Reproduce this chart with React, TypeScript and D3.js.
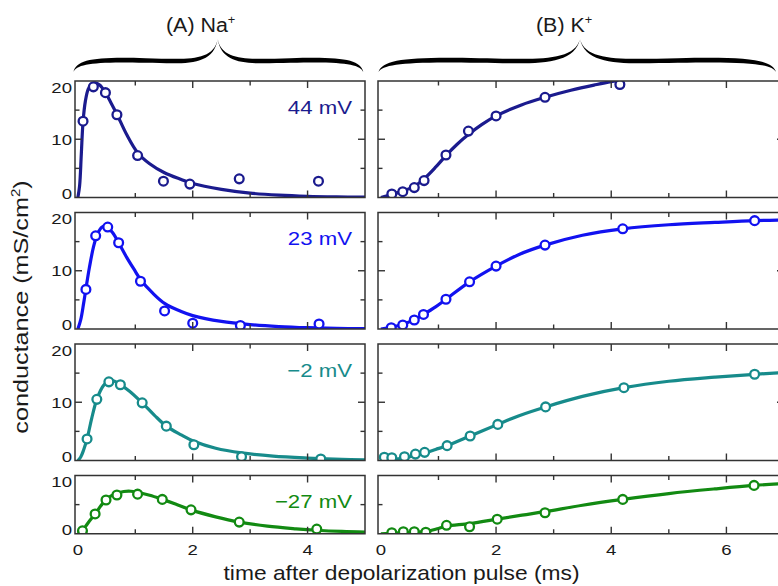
import React from 'react';
import * as d3 from 'd3';

// ---------- data ----------
const rowLabels = ['44 mV', '23 mV', '\u22122 mV', '\u221227 mV'];
const rowColors = ['#1b1b8e', '#1212f0', '#178b8b', '#128a12'];
const rowMax = [20, 20, 20, 10];
const columnTitles = ['(A) Na', '(B) K'];
const yAxisTitle = 'conductance (mS/cm';
const xAxisTitle = 'time after depolarization pulse (ms)';
const naXLabels = [0, 2, 4];
const kXLabels = [0, 2, 4, 6];

// Na+ measured points
const naT44 = [0.09, 0.27, 0.48, 0.68, 1.04, 1.49, 1.95, 2.81, 4.19];
const naG44 = [13.1, 19.0, 18.0, 14.2, 7.2, 2.8, 2.3, 3.2, 2.8];
const naT23 = [0.14, 0.31, 0.52, 0.71, 1.09, 1.51, 2.0, 2.83, 4.2];
const naG23 = [6.8, 16.0, 17.5, 14.8, 8.2, 3.1, 1.0, 0.6, 0.85];
const naTm2 = [0.16, 0.33, 0.54, 0.74, 1.12, 1.54, 2.02, 2.85, 4.23];
const naGm2 = [3.7, 10.5, 13.5, 13.0, 9.9, 5.9, 2.7, 0.65, 0.26];
const naTm27 = [0.08, 0.3, 0.49, 0.68, 1.04, 1.47, 1.97, 2.81, 4.16];
const naGm27 = [0.5, 3.4, 5.8, 6.65, 6.8, 5.9, 4.1, 2.0, 0.8];

// Na+ fitted curves
const naFitT44 = [0, 0.03, 0.06, 0.09, 0.13, 0.18, 0.24, 0.3, 0.38, 0.48, 0.58, 0.68, 0.85, 1.04, 1.25, 1.5, 1.8, 2.0, 2.5, 3.0, 3.5, 4.0, 4.5, 5.0];
const naFitG44 = [0, 2, 7.5, 13, 16.5, 18.6, 19.5, 19.7, 19.3, 18.0, 16.2, 14.3, 10.8, 7.7, 5.8, 4.3, 3.1, 2.4, 1.4, 0.75, 0.4, 0.2, 0.1, 0.05];
const naFitT23 = [0, 0.05, 0.1, 0.14, 0.2, 0.27, 0.34, 0.42, 0.5, 0.6, 0.71, 0.85, 1.0, 1.09, 1.3, 1.51, 1.8, 2.0, 2.5, 3.0, 3.5, 4.0, 4.5, 5.0];
const naFitG23 = [0, 1.6, 4.4, 6.9, 10.5, 14.0, 16.3, 17.5, 17.6, 16.6, 14.8, 12.3, 9.9, 8.5, 6.2, 4.4, 3.0, 2.3, 1.3, 0.75, 0.42, 0.22, 0.1, 0.05];
const naFitTm2 = [0, 0.05, 0.1, 0.16, 0.24, 0.33, 0.44, 0.54, 0.64, 0.74, 0.9, 1.12, 1.33, 1.54, 1.8, 2.02, 2.4, 2.85, 3.4, 4.0, 4.6, 5.0];
const naFitGm2 = [0, 0.6, 1.8, 3.7, 7.2, 10.5, 12.8, 13.7, 13.6, 13.0, 11.9, 9.9, 7.8, 5.9, 4.4, 3.3, 2.1, 1.3, 0.75, 0.42, 0.2, 0.12];
const naFitTm27 = [0, 0.04, 0.08, 0.18, 0.3, 0.4, 0.49, 0.58, 0.68, 0.8, 0.92, 1.04, 1.25, 1.47, 1.7, 1.97, 2.4, 2.81, 3.3, 3.8, 4.16, 4.6, 5.0];
const naFitGm27 = [0, 0.15, 0.5, 1.9, 3.4, 4.8, 5.9, 6.5, 6.95, 7.25, 7.3, 7.1, 6.6, 5.9, 5.1, 4.1, 2.9, 2.0, 1.3, 0.85, 0.6, 0.4, 0.3];

// K+ measured points
const kT44 = [0.19, 0.38, 0.58, 0.75, 1.13, 1.52, 2.0, 2.85, 4.15];
const kG44 = [0.6, 1.0, 1.7, 2.9, 7.3, 11.4, 14.0, 17.2, 19.4];
const kT23 = [0.18, 0.38, 0.58, 0.74, 1.13, 1.54, 2.0, 2.85, 4.2, 6.49];
const kG23 = [0.22, 0.69, 1.55, 2.5, 5.1, 8.1, 10.8, 14.4, 17.2, 18.6];
const kTm2 = [0.06, 0.19, 0.41, 0.6, 0.76, 1.15, 1.55, 2.03, 2.86, 4.22, 6.49];
const kGm2 = [0.55, 0.48, 0.65, 1.1, 1.4, 2.55, 4.2, 6.2, 9.2, 12.5, 14.8];
const kTm27 = [0.19, 0.39, 0.58, 0.78, 1.14, 1.54, 2.02, 2.85, 4.2, 6.48];
const kGm27 = [0.18, 0.35, 0.35, 0.25, 1.45, 1.2, 2.5, 3.6, 5.9, 8.3];

// K+ fitted curves
const kFitT44 = [0, 0.19, 0.38, 0.58, 0.75, 0.95, 1.13, 1.32, 1.52, 1.75, 2.0, 2.44, 2.85, 3.3, 3.7, 4.0, 4.5, 5.0, 6.0, 7.0];
const kFitG44 = [0, 0.5, 1.1, 1.9, 3.2, 5.2, 7.2, 9.1, 10.8, 12.5, 14.0, 15.9, 17.2, 18.4, 19.3, 19.9, 20.6, 21.1, 21.7, 22.0];
const kFitT23 = [0, 0.18, 0.38, 0.58, 0.74, 0.95, 1.13, 1.54, 2.0, 2.4, 2.85, 3.5, 4.2, 5.0, 5.8, 6.49, 7.0];
const kFitG23 = [0, 0.3, 0.8, 1.6, 2.5, 3.8, 5.1, 8.1, 10.8, 12.8, 14.4, 16.1, 17.2, 17.9, 18.3, 18.6, 18.7];
const kFitTm2 = [0, 0.2, 0.41, 0.6, 0.76, 0.95, 1.15, 1.55, 2.03, 2.4, 2.86, 3.5, 4.22, 5.0, 5.8, 6.49, 7.0];
const kFitGm2 = [0, 0.15, 0.45, 0.85, 1.3, 1.9, 2.55, 4.2, 6.2, 7.7, 9.2, 11.0, 12.5, 13.6, 14.3, 14.8, 15.1];
const kFitTm27 = [0, 0.4, 0.8, 1.0, 1.14, 1.54, 2.02, 2.45, 2.85, 3.5, 4.2, 5.0, 5.8, 6.48, 7.0];
const kFitGm27 = [0, 0.2, 0.4, 0.9, 1.3, 1.75, 2.5, 3.2, 3.8, 4.9, 5.9, 6.9, 7.7, 8.3, 8.6];

// ---------- layout ----------
const W = 778;
const H = 586;
const FONT = '"Liberation Sans", Arial, Helvetica, sans-serif';
const TEXT = '#1a1a1a';
const FRAME = '#333';
const colX: [number, number][] = [[75, 365], [378, 784]];
const colDomain: [number, number][] = [[-0.05, 5], [-0.05, 7]];
const rowTop = [81, 212.5, 344, 475.5];
const unitPx = 5.825;
const braceL = [73.5, 378.5];
const braceC = [217.7, 580];
const braceR = [363.3, 776];
const SX = 1.2;

type Series = { t: number[]; g: number[]; ft: number[]; fg: number[] };
const naSeries: Series[] = [
  { t: naT44, g: naG44, ft: naFitT44, fg: naFitG44 },
  { t: naT23, g: naG23, ft: naFitT23, fg: naFitG23 },
  { t: naTm2, g: naGm2, ft: naFitTm2, fg: naFitGm2 },
  { t: naTm27, g: naGm27, ft: naFitTm27, fg: naFitGm27 },
];
const kSeries: Series[] = [
  { t: kT44, g: kG44, ft: kFitT44, fg: kFitG44 },
  { t: kT23, g: kG23, ft: kFitT23, fg: kFitG23 },
  { t: kTm2, g: kGm2, ft: kFitTm2, fg: kFitGm2 },
  { t: kTm27, g: kGm27, ft: kFitTm27, fg: kFitGm27 },
];

function SText(props: any) {
  const { x, y, sx = SX, anchor = 'start', size, fill = TEXT, rotate = 0, children } = props;
  const tr = `translate(${x},${y})` + (rotate ? ` rotate(${rotate})` : '') + ` scale(${sx},1)`;
  return (
    <text transform={tr} textAnchor={anchor} fontSize={size} fill={fill} fontFamily={FONT}>
      {children}
    </text>
  );
}

function bracePath(L: number, C: number, R: number, B: number, A: number, T: number, d: number) {
  const half = (end: number, off: number) => {
    const dir = end < C ? 1 : -1;
    const h = Math.abs(C - end);
    const X = (f: number) => end + dir * f * h;
    return [
      [end, B],
      [X(0.02), A + 1 + off],
      [X(0.15), A - 1.5 + off],
      [X(0.5), A + off],
      [X(0.75), A + 0.5 + off],
      [C - dir * 0.03 * h, A + 5 + off],
      [C, T],
    ];
  };
  const lu = half(L, -d), ll = half(L, d), ru = half(R, -d), rl = half(R, d);
  const p = (q: number[]) => `${q[0].toFixed(2)},${q[1].toFixed(2)}`;
  return (
    `M${p(lu[0])}C${p(lu[1])} ${p(lu[2])} ${p(lu[3])}C${p(lu[4])} ${p(lu[5])} ${p(lu[6])}` +
    `C${p(ru[5])} ${p(ru[4])} ${p(ru[3])}C${p(ru[2])} ${p(ru[1])} ${p(ru[0])}` +
    `C${p(rl[1])} ${p(rl[2])} ${p(rl[3])}C${p(rl[4])} ${p(rl[5])} ${p(rl[6])}` +
    `C${p(ll[5])} ${p(ll[4])} ${p(ll[3])}C${p(ll[2])} ${p(ll[1])} ${p(ll[0])}Z`
  );
}

function Panel({ col, row }: { col: number; row: number }) {
  const s = (col === 0 ? naSeries : kSeries)[row];
  const color = rowColors[row];
  const top = rowTop[row];
  const ymax = rowMax[row];
  const bottom = top + ymax * unitPx;
  const x = d3.scaleLinear().domain(colDomain[col]).range(colX[col]);
  const y = d3.scaleLinear().domain([0, ymax]).range([bottom, top]);
  const [x0, x1] = colX[col];
  const id = `clip-${col}-${row}`;
  const line = d3
    .line<number>()
    .x((_, i) => x(s.ft[i]))
    .y((v) => y(v))
    .curve(d3.curveCatmullRom.alpha(0.5));
  const xt = d3.range(1, Math.ceil(colDomain[col][1] - 1e-6));
  const yt = d3.range(5, ymax, 5);
  const isBottom = row === rowTop.length - 1;
  const xLabels = col === 0 ? naXLabels : kXLabels;
  const yLabels = d3.range(0, ymax + 1, 10);
  return (
    <g>
      <defs>
        <clipPath id={id}>
          <rect x={x0} y={top} width={x1 - x0} height={bottom - top} />
        </clipPath>
      </defs>
      <g clipPath={`url(#${id})`}>
        <path d={line(s.fg) || ''} fill="none" stroke={color} strokeWidth={3.2} strokeLinejoin="round" />
        {s.t.map((t, i) => (
          <circle key={i} cx={x(t)} cy={y(s.g[i])} r={4.4} fill="#fff" stroke={color} strokeWidth={2.3} />
        ))}
      </g>
      {xt.map((t) => {
        const len = t % 2 === 0 ? 7 : 4.5;
        return (
          <g key={'x' + t}>
            <line x1={x(t)} x2={x(t)} y1={bottom} y2={bottom - len} stroke={FRAME} strokeWidth={1.4} />
            <line x1={x(t)} x2={x(t)} y1={top} y2={top + len} stroke={FRAME} strokeWidth={1.4} />
          </g>
        );
      })}
      {yt.map((v) => {
        const len = v % 10 === 0 ? 7 : 4.5;
        return (
          <g key={'y' + v}>
            <line x1={x0} x2={x0 + len} y1={y(v)} y2={y(v)} stroke={FRAME} strokeWidth={1.4} />
            <line x1={x1} x2={x1 - len} y1={y(v)} y2={y(v)} stroke={FRAME} strokeWidth={1.4} />
          </g>
        );
      })}
      <rect x={x0} y={top} width={x1 - x0} height={bottom - top} fill="none" stroke={FRAME} strokeWidth={1.5} />
      {col === 0 &&
        yLabels.map((v) => (
          <SText key={'yl' + v} x={x0 - 3} y={Math.min(Math.max(y(v) + 5.5, top + 11.5), bottom + 1.2)} anchor="end" size={15.5}>
            {String(v)}
          </SText>
        ))}
      {isBottom &&
        xLabels.map((v) => (
          <SText key={'xl' + v} x={x(v)} y={554.5} anchor="middle" size={15.5}>
            {String(v)}
          </SText>
        ))}
      {col === 0 && (
        <SText x={352} y={top + 32.5} anchor="end" size={18.5} fill={color}>
          {rowLabels[row]}
        </SText>
      )}
    </g>
  );
}

export default function App() {
  const titleX = [166, 536];
  return (
    <svg width={W} height={H} style={{ position: 'absolute', left: 0, top: 0, background: '#fff' }}>
      <rect x={0} y={0} width={W} height={H} fill="#fff" />
      {columnTitles.map((t, c) => (
        <g key={'title' + c}>
          <SText x={titleX[c]} y={32} size={20} sx={1.07}>
            {t}
            <tspan fontSize={12} dy={-8}>+</tspan>
          </SText>
          <path d={bracePath(braceL[c], braceC[c], braceR[c], 72, 60.5, 39, 2.3)} fill="#000" />
        </g>
      ))}
      {[0, 1].map((c) => rowTop.map((_, r) => <Panel key={c + '-' + r} col={c} row={r} />))}
      <SText x={401.5} y={580} anchor="middle" size={20} sx={1.14}>
        {xAxisTitle}
      </SText>
      <SText x={28} y={307} anchor="middle" size={21} sx={1.2} rotate={-90}>
        {yAxisTitle}
        <tspan fontSize={12.5} dy={-8.5}>2</tspan>
        <tspan dy={8.5}>)</tspan>
      </SText>
    </svg>
  );
}
